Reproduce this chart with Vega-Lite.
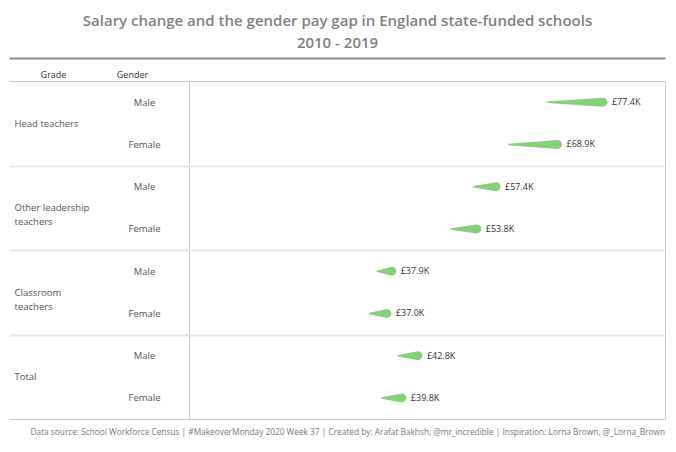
{
  "$schema": "https://vega.github.io/schema/vega-lite/v6.json",
  "autosize": {"type": "none"},
  "width": 656,
  "height": 338,
  "padding": {"left": 9, "top": 81, "right": 11, "bottom": 33},
  "background": "white",
  "config": {
    "view": {"stroke": null},
    "font": "Open Sans"
  },
  "title": {
    "text": "Data source: School Workforce Census | #MakeoverMonday 2020 Week 37 | Created by: Arafat Bakhsh, @mr_incredible | Inspiration: Lorna Brown, @_Lorna_Brown",
    "orient": "bottom",
    "anchor": "end",
    "fontSize": 8.3,
    "fontWeight": "normal",
    "color": "#777777",
    "offset": 9,
    "font": "Open Sans"
  },
  "data": {
    "values": [
      {"grade": "Head teachers", "gender": "Male", "year": 2010, "salary": 67000},
      {"grade": "Head teachers", "gender": "Male", "year": 2019, "salary": 77400},
      {"grade": "Head teachers", "gender": "Female", "year": 2010, "salary": 59800},
      {"grade": "Head teachers", "gender": "Female", "year": 2019, "salary": 68900},
      {"grade": "Other leadership teachers", "gender": "Male", "year": 2010, "salary": 53200},
      {"grade": "Other leadership teachers", "gender": "Male", "year": 2019, "salary": 57400},
      {"grade": "Other leadership teachers", "gender": "Female", "year": 2010, "salary": 49000},
      {"grade": "Other leadership teachers", "gender": "Female", "year": 2019, "salary": 53800},
      {"grade": "Classroom teachers", "gender": "Male", "year": 2010, "salary": 35200},
      {"grade": "Classroom teachers", "gender": "Male", "year": 2019, "salary": 37900},
      {"grade": "Classroom teachers", "gender": "Female", "year": 2010, "salary": 33800},
      {"grade": "Classroom teachers", "gender": "Female", "year": 2019, "salary": 37000},
      {"grade": "Total", "gender": "Male", "year": 2010, "salary": 39100},
      {"grade": "Total", "gender": "Male", "year": 2019, "salary": 42800},
      {"grade": "Total", "gender": "Female", "year": 2010, "salary": 36000},
      {"grade": "Total", "gender": "Female", "year": 2019, "salary": 39800}
    ]
  },
  "transform": [
    {"calculate": "datum.grade + '|' + datum.gender", "as": "key"},
    {"calculate": "'£' + format(datum.salary / 1000, '.1f') + 'K'", "as": "label"}
  ],
  "layer": [
    {
      "layer": [
        {
          "mark": {"type": "trail", "color": "#88cf7c"},
          "encoding": {
            "x": {
              "field": "salary",
              "type": "quantitative",
              "scale": {"domain": [-33660, 89000], "nice": false, "zero": false},
              "axis": {
                "orient": "top",
                "offset": 23,
                "values": [0, 89000],
                "labels": false,
                "ticks": false,
                "domain": true,
                "domainColor": "#8c8c8c",
                "domainWidth": 2,
                "grid": true,
                "gridColor": "#c8c8c8",
                "gridWidth": 1,
                "title": ["Salary change and the gender pay gap in England state-funded schools", "2010 - 2019"],
                "titleFont": "Open Sans",
                "titleFontSize": 15,
                "titleFontWeight": 600,
                "titleColor": "#7f7f7f",
                "titleLineHeight": 22,
                "titleAlign": "center",
                "titleBaseline": "middle",
                "titleAnchor": null,
                "titleX": 328,
                "titleY": -38
              }
            },
            "y": {
              "field": "key",
              "type": "nominal",
              "sort": null,
              "scale": {"paddingInner": 0, "paddingOuter": 0},
              "axis": {
                "orient": "left",
                "domain": false,
                "ticks": false,
                "grid": false,
                "labelExpr": "split(datum.label, '|')[1]",
                "labelAlign": "center",
                "labelBaseline": "middle",
                "labelPadding": -135,
                "labelFontSize": 9.5,
                "labelColor": "#555555",
                "labelFont": "Open Sans",
                "title": "Gender",
                "titleAngle": 0,
                "titleAlign": "center",
                "titleBaseline": "middle",
                "titleX": 123,
                "titleY": -7,
                "titleFontSize": 9,
                "titleFontWeight": "normal",
                "titleColor": "#333333",
                "titleFont": "Open Sans"
              }
            },
            "size": {
              "field": "year",
              "type": "quantitative",
              "scale": {"domain": [2010, 2019], "range": [1.5, 9]},
              "legend": null
            },
            "order": {"field": "year", "type": "quantitative"},
            "detail": {"field": "key"}
          }
        },
        {
          "transform": [{"filter": "datum.year == 2019"}],
          "mark": {"type": "text", "align": "left", "baseline": "middle", "dx": 9, "fontSize": 9, "color": "#333333", "font": "Open Sans"},
          "encoding": {
            "x": {"field": "salary", "type": "quantitative"},
            "y": {"field": "key", "type": "nominal", "sort": null},
            "text": {"field": "label"}
          }
        }
      ]
    },
    {
      "mark": {"type": "point", "opacity": 0},
      "encoding": {
        "x": {"field": "salary", "type": "quantitative"},
        "y": {
          "field": "grade",
          "type": "nominal",
          "sort": null,
          "scale": {"paddingInner": 0, "paddingOuter": 0},
          "axis": {
            "orient": "left",
            "domain": false,
            "ticks": false,
            "grid": true,
            "tickBand": "extent",
            "gridColor": {"condition": {"test": "!isValid(datum.value) || datum.value == 'Total'", "value": "#c8c8c8"}, "value": "#e6e6e6"},
            "gridWidth": {"condition": {"test": "!isValid(datum.value) || datum.value == 'Total'", "value": 1}, "value": 2},
            "labelExpr": "datum.label == 'Other leadership teachers' ? ['Other leadership', 'teachers'] : datum.label == 'Classroom teachers' ? ['Classroom', 'teachers'] : datum.label",
            "labelAlign": "left",
            "labelBaseline": "middle",
            "labelPadding": -5,
            "labelFontSize": 9.5,
            "labelLineHeight": 14,
            "labelColor": "#555555",
            "labelFont": "Open Sans",
            "labelLimit": 200,
            "title": "Grade",
            "titleAngle": 0,
            "titleAlign": "center",
            "titleBaseline": "middle",
            "titleX": 44,
            "titleY": -7,
            "titleFontSize": 9,
            "titleFontWeight": "normal",
            "titleColor": "#333333",
            "titleFont": "Open Sans"
          }
        }
      }
    }
  ],
  "resolve": {"scale": {"y": "independent"}, "axis": {"y": "independent"}}
}
